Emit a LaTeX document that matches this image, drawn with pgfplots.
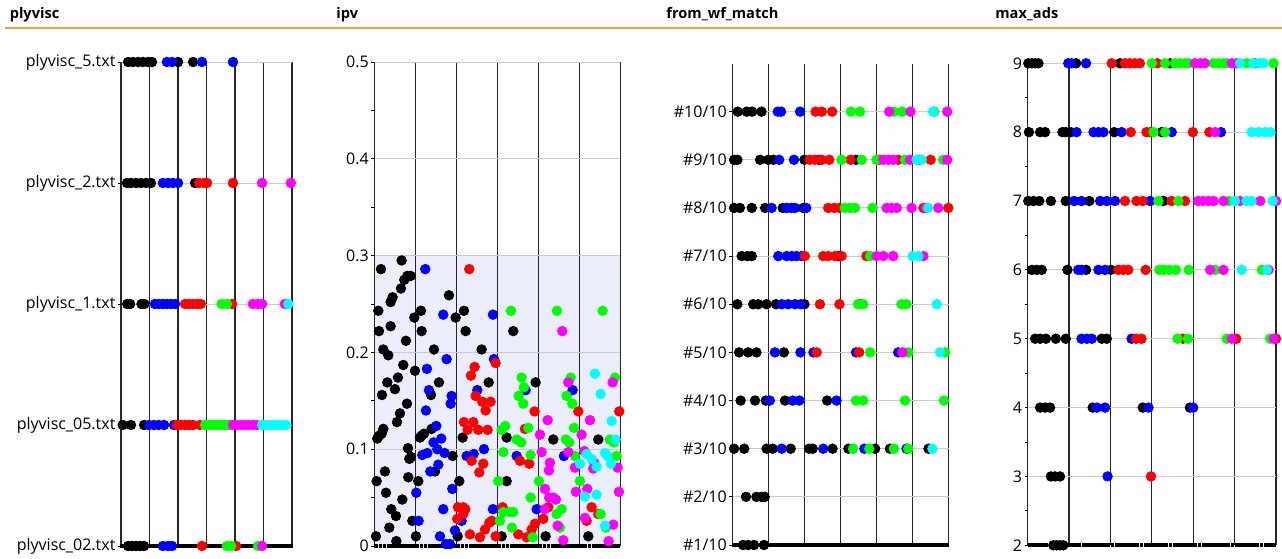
\documentclass[border=0pt]{standalone}
\usepackage{pgfplots}
\pgfplotsset{compat=1.18}
\usepackage{pgfplotstable}
\usepackage{fontspec}
\setmainfont{Open Sans}
\definecolor{cblue}{RGB}{0,0,255}
\definecolor{cred}{RGB}{255,0,0}
\definecolor{cgreen}{RGB}{0,255,0}
\definecolor{cmag}{RGB}{255,0,255}
\definecolor{ccyan}{RGB}{0,255,255}
\definecolor{shade}{RGB}{235,238,250}
\definecolor{orangeline}{RGB}{240,160,70}

\pgfplotstableread[row sep=\\]{
x ya yb yc yd\\
0.5 0 0 1 2\\ 1.5 0 0 1 2\\ 2.5 0 0 1 2\\ 3.5 0 0 1 2\\ 4.5 0 0 1 2\\
5.5 0 0 1 2\\ 6.5 0 0 1 2\\ 7.5 0 0 1 2\\ 8.5 0 0 1 2\\ 9.5 0 0 1 2\\
10.5 0 0 1 2\\ 11.5 0 0 1 2\\ 12.5 0 0 1 2\\ 13.5 0 0 1 2\\ 14.5 0 0 1 2\\
15.5 0 0 1 2\\ 16.5 0 0 1 2\\ 17.5 0 0 1 2\\ 18.5 0 0 1 2\\ 19.5 0 0 1 2\\
20.5 0 0 1 2\\ 21.5 0 0 1 2\\ 22.5 0 0 1 2\\ 23.5 0 0 1 2\\ 24.5 0 0 1 2\\
25.5 0 0 1 2\\ 26.5 0 0 1 2\\ 27.5 0 0 1 2\\ 28.5 0 0 1 2\\ 29.5 0 0 1 2\\
30.5 0 0 1 2\\ 31.5 0 0 1 2\\ 32.5 0 0 1 2\\ 33.5 0 0 1 2\\ 34.5 0 0 1 2\\
35.5 0 0 1 2\\ 36.5 0 0 1 2\\ 37.5 0 0 1 2\\ 38.5 0 0 1 2\\ 39.5 0 0 1 2\\
40.5 0 0 1 2\\ 41.5 0 0 1 2\\ 42.5 0 0 1 2\\ 43.5 0 0 1 2\\ 44.5 0 0 1 2\\
45.5 0 0 1 2\\ 46.5 0 0 1 2\\ 47.5 0 0 1 2\\ 48.5 0 0 1 2\\ 49.5 0 0 1 2\\
50.5 0 0 1 2\\ 51.5 0 0 1 2\\ 52.5 0 0 1 2\\ 53.5 0 0 1 2\\ 54.5 0 0 1 2\\
55.5 0 0 1 2\\ 56.5 0 0 1 2\\ 57.5 0 0 1 2\\ 58.5 0 0 1 2\\ 59.5 0 0 1 2\\
}\sq

\pgfplotsset{
  panel/.style={
    scale only axis, clip=false, set layers,
    anchor=south west,
    xmin=0, xmax=60, xtick={0,10,20,30,40,50,60}, xticklabels={},
    axis lines*=left,
    x axis line style={draw=none},
    y axis line style={black!85, line width=0.6pt},
    xtick style={draw=none},
    ytick style={black, line width=0.5pt},
    tick align=outside,
    major tick length=1.6pt, minor tick length=1.6pt,
    xmajorgrids, ymajorgrids,
    major x grid style={black!85, line width=0.6pt},
    major y grid style={black!20, line width=0.5pt},
    yticklabel style={font=\fontsize{8}{9}\selectfont, inner sep=1pt},
    /pgf/number format/assume math mode=true,
  },
  dot/.style={only marks, mark=*, mark size=2.4pt, color=#1},
  sqm/.style={only marks, mark=square*, mark size=0.72pt, black, mark options={line width=0pt}},
}

\begin{document}
\begin{tikzpicture}
\draw[orangeline, line width=1pt] (2.5pt,265pt) -- (641pt,265pt);
\node[anchor=base west, inner sep=0pt, font=\fontsize{7.3}{8}\selectfont\bfseries] at (4.7pt,269.8pt) {plyvisc};
\node[anchor=base west, inner sep=0pt, font=\fontsize{7.3}{8}\selectfont\bfseries] at (168pt,269.8pt) {ipv};
\node[anchor=base west, inner sep=0pt, font=\fontsize{7.3}{8}\selectfont\bfseries] at (333pt,269.8pt) {from\_wf\_match};
\node[anchor=base west, inner sep=0pt, font=\fontsize{7.3}{8}\selectfont\bfseries] at (497.5pt,269.8pt) {max\_ads};

% ---------------- plyvisc ----------------
\begin{axis}[panel, at={(60.5pt,6pt)}, width=85.5pt, height=242pt,
  ymin=0, ymax=4, ytick={0,1,2,3,4},
  yticklabels={plyvisc\_02.txt,plyvisc\_05.txt,plyvisc\_1.txt,plyvisc\_2.txt,plyvisc\_5.txt}]
\addplot[sqm, mark size=0.8pt] table[x=x,y=ya]{\sq};
\addplot[dot=black] coordinates {(2.5,4)(4.2,4)(6,4)(7.7,4)(9.5,4)(10.9,4)(20,4)(25.3,4)
 (2.1,3)(3.5,3)(5.3,3)(7,3)(8.8,3)(10.5,3)(26,3)
 (2.2,2)(3.2,2)(7.2,2)(8.2,2)
 (0.6,1)(3.5,1)(8.1,1)
 (2.5,0)(3.9,0)(5.3,0)(6.7,0)(8.1,0)};
\addplot[dot=cblue] coordinates {(16.1,4)(17.9,4)(28.4,4)(39.3,4)
 (14.7,3)(16.5,3)(18.2,3)(20,3)
 (11.9,2)(13.3,2)(14.7,2)(16.1,2)(17.5,2)(19,2)
 (9.8,1)(11.6,1)(13.3,1)(15.1,1)(18.6,1)(38,1)
 (14.7,0)(16.5,0)(17.9,0)};
\addplot[dot=cred] coordinates {(27.4,3)(29.1,3)(30.2,3)(39.3,3)
 (22.5,2)(23.9,2)(25.3,2)(26.7,2)(28,2)(39,2)
 (19.6,1)(21,1)(22.5,1)(23.9,1)(25.3,1)(27.7,1)
 (28.4,0)(40.4,0)};
\addplot[dot=cgreen] coordinates {(35.3,2)(37.2,2)
 (29.5,1)(30.9,1)(32.3,1)(33.7,1)(35.1,1)(36.5,1)(37.9,1)
 (37.2,0)(38.6,0)(48.1,0)};
\addplot[dot=cmag] coordinates {(49.5,3)(59.6,3)
 (46.3,2)(48,2)(49.5,2)(57.5,2)
 (39.3,1)(40.7,1)(42.1,1)(43.5,1)(44.9,1)(46.3,1)(47.7,1)
 (49.5,0)};
\addplot[dot=ccyan] coordinates {(58.7,2)
 (49.5,1)(50.9,1)(52.3,1)(53.7,1)(55.1,1)(56.5,1)(57.9,1)};
\end{axis}

% ---------------- ipv ----------------
\begin{axis}[panel, at={(187.15pt,6pt)}, width=123pt, height=242pt,
  ymin=0, ymax=0.5, ytick={0,0.1,0.2,0.3,0.4,0.5},
  yticklabels={0,0.1,0.2,0.3,0.4,0.5},
  minor ytick={0.05,0.15,0.25,0.35,0.45}]
\addplot[draw=none, fill=shade, on layer=axis background] coordinates {(0,0) (0,0.3) (60,0.3) (60,0)} \closedcycle;
\addplot[sqm] table[x=x,y=yb]{\sq};
\addplot[dot=black] coordinates {(0.41,0.010)(0.57,0.067)(0.98,0.243)(1.14,0.222)(1.63,0.286)(2.2,0.203)(3.41,0.197)(1.87,0.156)(0.73,0.111)(1.22,0.114)(1.79,0.116)(2.2,0.121)(2.6,0.077)(2.85,0.055)(3.17,0.169)(3.66,0.019)(3.98,0.227)(3.98,0.252)(4.47,0.257)(4.15,0.038)(5.04,0.162)(5.28,0.031)(5.37,0.005)(5.53,0.128)(5.77,0.174)(6.26,0.137)(6.5,0.266)(6.67,0.295)(6.83,0.048)(7.07,0.187)(7.32,0.275)(8.05,0.279)(8.86,0.279)(7.72,0.212)(7.97,0.147)(8.21,0.101)(8.29,0.071)(8.54,0.090)(8.94,0.092)(9.27,0.026)(9.76,0.236)(9.92,0.181)(10.16,0.010)(10.73,0.067)(11.14,0.112)(11.54,0.114)(12.11,0.116)(11.38,0.243)(11.54,0.222)(14.55,0.203)(13.82,0.156)(13.98,0.121)(14.8,0.077)(15.77,0.169)(18.21,0.259)(19.1,0.093)(19.84,0.236)(21.87,0.243)(22.28,0.222)(26.18,0.203)(27.89,0.169)(21.54,0.112)(20.73,0.067)(20.33,0.010)(33.9,0.222)(32.28,0.112)(32.28,0.067)(31.06,0.010)(39.35,0.169)(43.66,0.110)(41.79,0.010)(54.63,0.110)(52.2,0.010)};
\addplot[dot=cblue] coordinates {(12.44,0.286)(16.83,0.239)(12.85,0.183)(13.33,0.161)(12.6,0.140)(11.71,0.094)(12.93,0.096)(13.66,0.077)(15.12,0.124)(14.47,0.107)(15.37,0.100)(16.34,0.111)(15.61,0.084)(17.15,0.096)(17.64,0.193)(18.86,0.155)(18.62,0.147)(10.24,0.055)(10.81,0.026)(16.83,0.038)(16.02,0.010)(17.48,0.002)(18.46,0.002)(19.02,0.059)(19.67,0.016)(25.12,0.161)(24.23,0.095)(22.52,0.093)(26.75,0.100)(28.94,0.239)(29.19,0.193)(28.94,0.038)(21.3,0.026)(34.72,0.093)(36.91,0.161)(39.59,0.038)(46.26,0.093)(48.37,0.161)};
\addplot[dot=cred] coordinates {(23.17,0.286)(24.47,0.185)(23.58,0.176)(24.72,0.155)(26.34,0.149)(28.37,0.149)(27.15,0.140)(21.87,0.128)(24.15,0.128)(22.76,0.120)(25.37,0.120)(27.64,0.120)(23.74,0.088)(26.59,0.085)(25.61,0.076)(29.59,0.189)(20.41,0.040)(21.71,0.040)(22.2,0.038)(20.24,0.028)(21.71,0.033)(23.33,0.012)(25.77,0.009)(26.99,0.017)(28.05,0.024)(28.62,0.026)(29.59,0.010)(31.3,0.040)(35.53,0.088)(36.75,0.121)(37.8,0.085)(39.1,0.139)(35.12,0.012)(37.15,0.009)(38.37,0.017)(39.19,0.023)(42.44,0.040)(41.22,0.028)(49.76,0.139)(53.01,0.040)(54.63,0.033)(51.79,0.026)(59.76,0.139)};
\addplot[dot=cgreen] coordinates {(33.33,0.243)(31.95,0.124)(31.06,0.120)(31.46,0.097)(35.93,0.174)(36.5,0.164)(35.2,0.155)(36.34,0.147)(37.56,0.122)(34.72,0.110)(35.85,0.107)(38.13,0.094)(30.24,0.067)(30.65,0.026)(31.46,0.035)(33.09,0.035)(33.9,0.035)(33.58,0.019)(38.13,0.050)(38.62,0.009)(44.55,0.243)(40.16,0.067)(46.91,0.155)(47.89,0.174)(48.29,0.147)(48.7,0.122)(46.75,0.110)(47.56,0.107)(48.94,0.093)(50.16,0.067)(45.69,0.038)(44.47,0.033)(45.28,0.019)(55.69,0.243)(58.7,0.174)(57.48,0.110)(58.46,0.107)(59.11,0.093)(55.2,0.033)(56.5,0.019)};
\addplot[dot=cmag] coordinates {(45.85,0.222)(42.28,0.130)(40.41,0.115)(40.81,0.097)(42.85,0.086)(42.6,0.078)(41.63,0.059)(42.68,0.050)(43.66,0.050)(44.31,0.048)(41.63,0.038)(44.72,0.021)(46.1,0.006)(47.32,0.169)(47.32,0.097)(48.94,0.081)(49.19,0.056)(50.57,0.115)(52.6,0.130)(51.22,0.098)(53.41,0.080)(53.66,0.086)(51.95,0.059)(51.38,0.029)(58.13,0.169)(58.29,0.022)(57.15,0.005)(59.35,0.081)(59.67,0.056)};
\addplot[dot=ccyan] coordinates {(53.82,0.178)(55.2,0.157)(50.16,0.085)(51.79,0.095)(53.01,0.090)(54.23,0.082)(51.38,0.051)(54.23,0.053)(56.26,0.096)(56.83,0.093)(57.72,0.085)(57.89,0.129)(58.86,0.110)(56.26,0.021)};
\end{axis}

% ---------------- from_wf_match ----------------
\begin{axis}[panel, at={(366.15pt,6.5pt)}, width=108.2pt, height=240.75pt,
  ymin=1, ymax=11, ytick={1,2,3,4,5,6,7,8,9,10},
  yticklabels={\#1/10,\#2/10,\#3/10,\#4/10,\#5/10,\#6/10,\#7/10,\#8/10,\#9/10,\#10/10}]
\addplot[sqm] table[x=x,y=yc]{\sq};
\addplot[dot=black] coordinates {(1.5,10)(4,10)(5.5,10)(8.1,10)
 (0.5,9)(1.4,9)(7.7,9)(10,9)(11.4,9)(20,9)(34.3,9)
 (0.5,8)(2.1,8)(5.4,8)(9.1,8)(14,8)(19.7,8)
 (2.6,7)(4.2,7)(5.4,7)
 (1.4,6)(5.8,6)(7.2,6)(9.5,6)(12.1,6)(20,6)
 (1.9,5)(4.4,5)(6.7,5)(14.3,5)
 (2.3,4)(6.3,4)(9.3,4)(14.6,4)(26.3,4)
 (0.5,3)(3.3,3)(9.5,3)(11.2,3)(16.2,3)(21.3,3)(22.3,3)(27.8,3)(32.2,3)(39.6,3)(43.7,3)(54.4,3)
 (3.8,2)(6.7,2)(8.1,2)(9,2)
 (3,1)(4.4,1)(6,1)(8.8,1)};
\addplot[dot=cblue] coordinates {(12.6,10)(13.5,10)(18.8,10)
 (13,9)(17.1,9)(24,9)
 (10.9,8)(15.1,8)(16.3,8)(17.4,8)(20.5,8)
 (12.75,7)(15.1,7)(16.5,7)(17.8,7)(19.2,7)(29.5,7)
 (13.7,6)(15.5,6)(17.4,6)(19,6)
 (11.8,5)(18.9,5)(22.5,5)(34.3,5)(46,5)
 (10.4,4)(16.7,4)(18.6,4)(28.9,4)
 (13.7,3)(25.2,3)(36.6,3)(48.3,3)};
\addplot[dot=cred] coordinates {(23.1,10)(24.8,10)(27.7,10)
 (21.5,9)(22.9,9)(24.8,9)(26.9,9)(32.8,9)(40.8,9)(46,9)(52,9)(55,9)
 (26.6,8)(28.2,8)(29.7,8)(53,8)(59.9,8)
 (20.1,7)(25.2,7)(26.6,7)(28.5,7)(30.3,7)(37.2,7)
 (24.3,6)(29.7,6)(35.5,6)
 (23.4,5)(35.2,5)};
\addplot[dot=cgreen] coordinates {(32.9,10)(35.4,10)(44.8,10)(47.1,10)(56,10)
 (30.3,9)(35.9,9)(40,9)(47.9,9)(58.5,9)
 (31.2,8)(32.6,8)(34,8)(38.9,8)
 (38.2,7)
 (34.9,6)(36.3,6)(46.9,6)(48.3,6)
 (38.2,5)(48.8,5)(59,5)
 (34.3,4)(36.3,4)(47.9,4)(58.7,4)
 (33.5,3)(38,3)(44.8,3)(48.8,3)};
\addplot[dot=cmag] coordinates {(43.5,10)(49.4,10)(59.6,10)
 (41.9,9)(43.3,9)(44.6,9)(49.3,9)(59.6,9)
 (42.8,8)(44.2,8)(45.6,8)(49.7,8)(53.7,8)(57.1,8)
 (40,7)(41.9,7)(44.6,7)(53,7)
 (47.2,5)};
\addplot[dot=ccyan] coordinates {(55.7,10)
 (51.1,9)(52.5,9)
 (54.3,8)
 (50,7)(51.6,7)
 (56.7,6)
 (57.6,5)
 (55.5,3)};
\end{axis}

% ---------------- max_ads ----------------
\begin{axis}[panel, at={(513.85pt,6.35pt)}, width=124.15pt, height=241pt,
  ymin=2, ymax=9, ytick={2,3,4,5,6,7,8,9},
  yticklabels={2,3,4,5,6,7,8,9},
  minor ytick={2.5,3.5,4.5,5.5,6.5,7.5,8.5}]
\addplot[sqm] table[x=x,y=yd]{\sq};
\addplot[dot=black] coordinates {(0.15,9)(1,9)(1.8,9)(2.6,9)(11.7,9)(22.3,9)(34.4,9)
 (0.3,8)(3,8)(4.2,8)(8.4,8)(9.2,8)(10.4,8)(20.9,8)(32.4,8)
 (0.15,7)(1.4,7)(2.8,7)(5.6,7)(9.2,7)(14.9,7)(32.8,7)
 (1,6)(2.2,6)(3.4,6)(9.6,6)(14.1,6)(20.1,6)
 (1.8,5)(3,5)(4.4,5)(6.8,5)(9.2,5)(17.9,5)(19.1,5)
 (3,4)(4.2,4)(5.4,4)(15.7,4)(27.8,4)(39.2,4)
 (5.6,3)(6.6,3)(7.8,3)
 (6.2,2)(7,2)(7.8,2)(8.6,2)};
\addplot[dot=cblue] coordinates {(9.8,9)(10.6,9)(14.1,9)
 (11.8,8)(15.9,8)(17.1,8)(18.3,8)(22.7,8)(34.8,8)(46.7,8)
 (11.2,7)(13,7)(17.5,7)(19.1,7)(21.1,7)(29.6,7)
 (12.2,6)(13,6)(17.1,6)(18.7,6)
 (13,5)(14.3,5)(15.5,5)(25.1,5)
 (16.7,4)(18.7,4)(29.2,4)(40,4)
 (19.3,3)};
\addplot[dot=cred] coordinates {(20.3,9)(23.5,9)(24.7,9)(25.9,9)(27.1,9)(31.3,9)
 (24.9,8)(28.7,8)(29.6,8)(39.9,8)(43.9,8)
 (23.5,7)(26.3,7)(27.8,7)(34.8,7)(38,7)
 (21.9,6)(23.1,6)(24.3,6)(28.5,6)
 (26.2,5)(27.5,5)(37.5,5)(50.4,5)(60,5)
 (29.8,3)};
\addplot[dot=cgreen] coordinates {(30,9)(33.2,9)(35.6,9)(36.8,9)(38,9)(38.8,9)(44.9,9)(46.1,9)(47.3,9)(48.1,9)(52.9,9)(59.4,9)
 (30.4,8)(33.2,8)
 (31.6,7)(36.4,7)(48.5,7)
 (31.8,6)(32.9,6)(34.2,6)(35.8,6)(38.9,6)(45.3,6)(56.6,6)
 (36.2,5)(38.7,5)(48.1,5)(58.6,5)};
\addplot[dot=cmag] coordinates {(40.4,9)(41.7,9)(42.8,9)(49.3,9)(50.5,9)(55,9)
 (45.3,8)
 (41.2,7)(42.4,7)(43.7,7)(44.9,7)(47.3,7)(51.3,7)(56.2,7)(60,7)
 (44.1,6)(47.3,6)(58.2,6)
 (49.3,5)(59.5,5)};
\addplot[dot=ccyan] coordinates {(51.3,9)(54.5,9)(56.2,9)(57,9)
 (54.1,8)(55.8,8)(57.4,8)(58.6,8)
 (50.1,7)(52.9,7)(54.1,7)(59.2,7)
 (51.7,6)(57.8,6)};
\end{axis}
\pgfresetboundingbox
\path[use as bounding box] (0pt,0pt) rectangle (641pt,279pt);
\end{tikzpicture}
\end{document}
